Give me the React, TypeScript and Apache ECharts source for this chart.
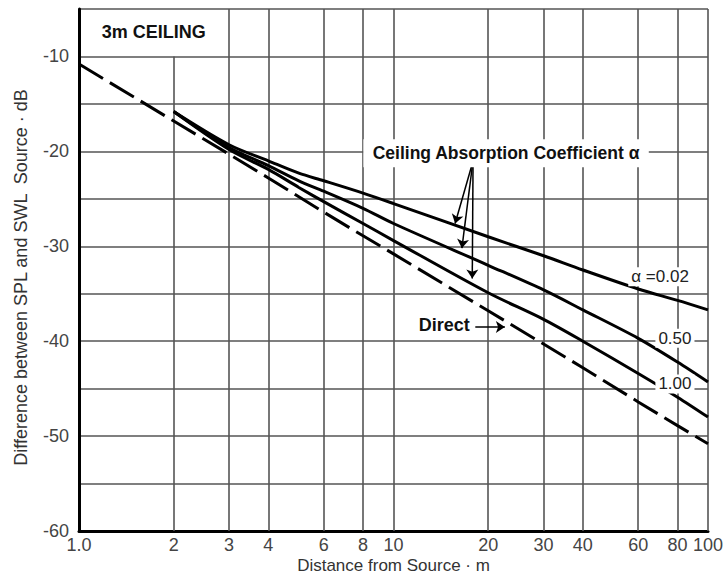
import React, { useEffect, useRef } from 'react';
import * as echarts from 'echarts';

// Distances (m) and levels (dB)
const directDistances = [1, 2, 3, 4, 6, 8, 10, 20, 30, 40, 60, 80, 100];
const directLevels = [-10.8, -16.8, -20.3, -22.8, -26.4, -28.9, -30.8, -36.8, -40.3, -42.8, -46.4, -48.9, -50.8];

const ceilingDistances = [2, 3, 4, 5, 6, 8, 10, 20, 30, 40, 60, 80, 100];
const alpha002Levels = [-15.8, -19.3, -21.0, -22.3, -23.1, -24.4, -25.5, -29.0, -31.0, -32.5, -34.5, -35.7, -36.7];
const alpha050Levels = [-15.8, -19.6, -21.5, -23.1, -24.2, -26.0, -27.6, -32.0, -34.6, -36.7, -39.7, -42.2, -44.3];
const alpha100Levels = [-15.8, -19.8, -21.9, -23.8, -25.3, -27.6, -29.4, -34.9, -37.7, -40.0, -43.4, -45.9, -48.0];

const gridDistances = [2, 3, 4, 6, 8, 10, 20, 30, 40, 60, 80, 100];
const tickDistances = [1, 2, 3, 4, 6, 8, 10, 20, 30, 40, 60, 80, 100];

const xTitle = 'Distance from Source · m';
const yTitle = 'Difference between SPL and SWL  Source · dB';

const FONT = '"Liberation Sans", Arial, Helvetica, sans-serif';
const GRID_COLOR = '#555';

const pairs = (xs: number[], ys: number[]) => xs.map((x, i) => [x, ys[i]]);

export default function App() {
  const ref = useRef<HTMLDivElement>(null);

  useEffect(() => {
    if (!ref.current) return;
    const chart = echarts.init(ref.current, undefined, { renderer: 'svg' });

    const boldLabel = (size: number) => ({
      show: true,
      position: 'inside',
      formatter: '{b}',
      fontFamily: FONT,
      fontWeight: 'bold',
      fontSize: size,
      color: '#111',
    });
    const plainLabel = (size: number) => ({
      show: true,
      position: 'inside',
      formatter: '{b}',
      fontFamily: FONT,
      fontSize: size,
      color: '#222',
      backgroundColor: '#fff',
      padding: [1, 3],
    });

    const option: any = {
      animation: false,
      backgroundColor: '#fff',
      grid: { left: 79, right: 19, top: 9, bottom: 46, outerBoundsMode: 'none' },
      xAxis: {
        type: 'log',
        logBase: 10,
        min: 1,
        max: 100,
        name: xTitle,
        nameLocation: 'middle',
        nameGap: 26,
        nameMoveOverlap: false,
        nameTextStyle: { fontSize: 17, lineHeight: 17, color: '#333', fontFamily: FONT },
        axisLine: { show: true, onZero: false, lineStyle: { color: '#000', width: 3 } },
        axisTick: { show: false, customValues: tickDistances },
        axisLabel: {
          customValues: tickDistances,
          formatter: (v: number) => (v === 1 ? '1.0' : String(v)),
          fontSize: 18,
          lineHeight: 18,
          color: '#444',
          margin: 5,
          fontFamily: FONT,
        },
        splitLine: { show: false },
        minorTick: { show: false },
        minorSplitLine: { show: false },
      },
      yAxis: {
        type: 'value',
        min: -60,
        max: -5,
        interval: 5,
        name: yTitle,
        nameLocation: 'middle',
        nameGap: 49,
        nameTextStyle: { fontSize: 18, color: '#333', fontFamily: FONT, padding: [0, 15, 0, 0] },
        axisLine: { show: true, onZero: false, lineStyle: { color: '#000', width: 3 } },
        axisTick: { show: false },
        axisLabel: {
          formatter: (v: number) => (v % 10 === 0 ? String(v) : ''),
          fontSize: 18,
          color: '#444',
          margin: 10,
          fontFamily: FONT,
        },
        splitLine: { show: true, lineStyle: { color: GRID_COLOR, width: 1.6 } },
      },
      series: [
        {
          name: 'Direct',
          type: 'line',
          data: pairs(directDistances, directLevels),
          symbol: 'none',
          z: 3,
          lineStyle: { color: '#000', width: 3, type: [28, 8] },
          markLine: {
            silent: true,
            symbol: 'none',
            z: 1,
            label: { show: false },
            lineStyle: { color: GRID_COLOR, width: 1.6, type: 'solid' },
            data: gridDistances.map((d) =>
              d === 2 ? [{ coord: [d, -60] }, { coord: [d, -10] }] : { xAxis: d }
            ),
          },
        },
        {
          name: 'α = 0.02',
          type: 'line',
          data: pairs(ceilingDistances, alpha002Levels),
          symbol: 'none',
          smooth: 0.3,
          z: 3,
          lineStyle: { color: '#000', width: 3 },
          markLine: {
            silent: true,
            z: 6,
            symbol: ['none', 'arrow'],
            symbolSize: 9,
            label: { show: false },
            lineStyle: { color: '#000', width: 1.5, type: 'solid' },
            data: [
              [{ coord: [17.7, -21.6] }, { coord: [15.7, -27.6], lineStyle: { curveness: 0.08 } }],
              [{ coord: [17.8, -21.6] }, { coord: [16.5, -30.2], lineStyle: { curveness: -0.1 } }],
              [{ coord: [17.9, -21.6] }, { coord: [17.8, -33.4], lineStyle: { curveness: -0.2 } }],
              [{ coord: [18.2, -38.5] }, { coord: [22.6, -38.5], lineStyle: { curveness: 0 } }],
            ],
          },
        },
        {
          name: 'α = 0.50',
          type: 'line',
          data: pairs(ceilingDistances, alpha050Levels),
          symbol: 'none',
          smooth: 0.3,
          z: 3,
          lineStyle: { color: '#000', width: 3 },
          markPoint: {
            silent: true,
            z: 10,
            symbol: 'rect',
            symbolSize: 1,
            itemStyle: { color: 'rgba(0,0,0,0)' },
            data: [
              { name: '3m CEILING', coord: [1.73, -7.4], label: boldLabel(18) },
              {
                name: 'Ceiling Absorption Coefficient α',
                coord: [22.8, -20.2],
                label: { ...boldLabel(17.5), backgroundColor: '#fff', padding: [5, 9] },
              },
              { name: 'Direct', coord: [14.5, -38.3], label: boldLabel(18) },
              { name: 'α =0.02', coord: [70.4, -33.2], label: plainLabel(17) },
              { name: '0.50', coord: [78.5, -39.7], label: plainLabel(17) },
              { name: '1.00', coord: [78.5, -44.5], label: plainLabel(17) },
            ],
          },
        },
        {
          name: 'α = 1.00',
          type: 'line',
          data: pairs(ceilingDistances, alpha100Levels),
          symbol: 'none',
          smooth: 0.3,
          z: 3,
          lineStyle: { color: '#000', width: 3 },
        },
      ],
    };

    chart.setOption(option);
    return () => chart.dispose();
  }, []);

  return (
    <div
      ref={ref}
      style={{ position: 'absolute', left: 0, top: 0, width: 727, height: 577, background: '#fff' }}
    />
  );
}
